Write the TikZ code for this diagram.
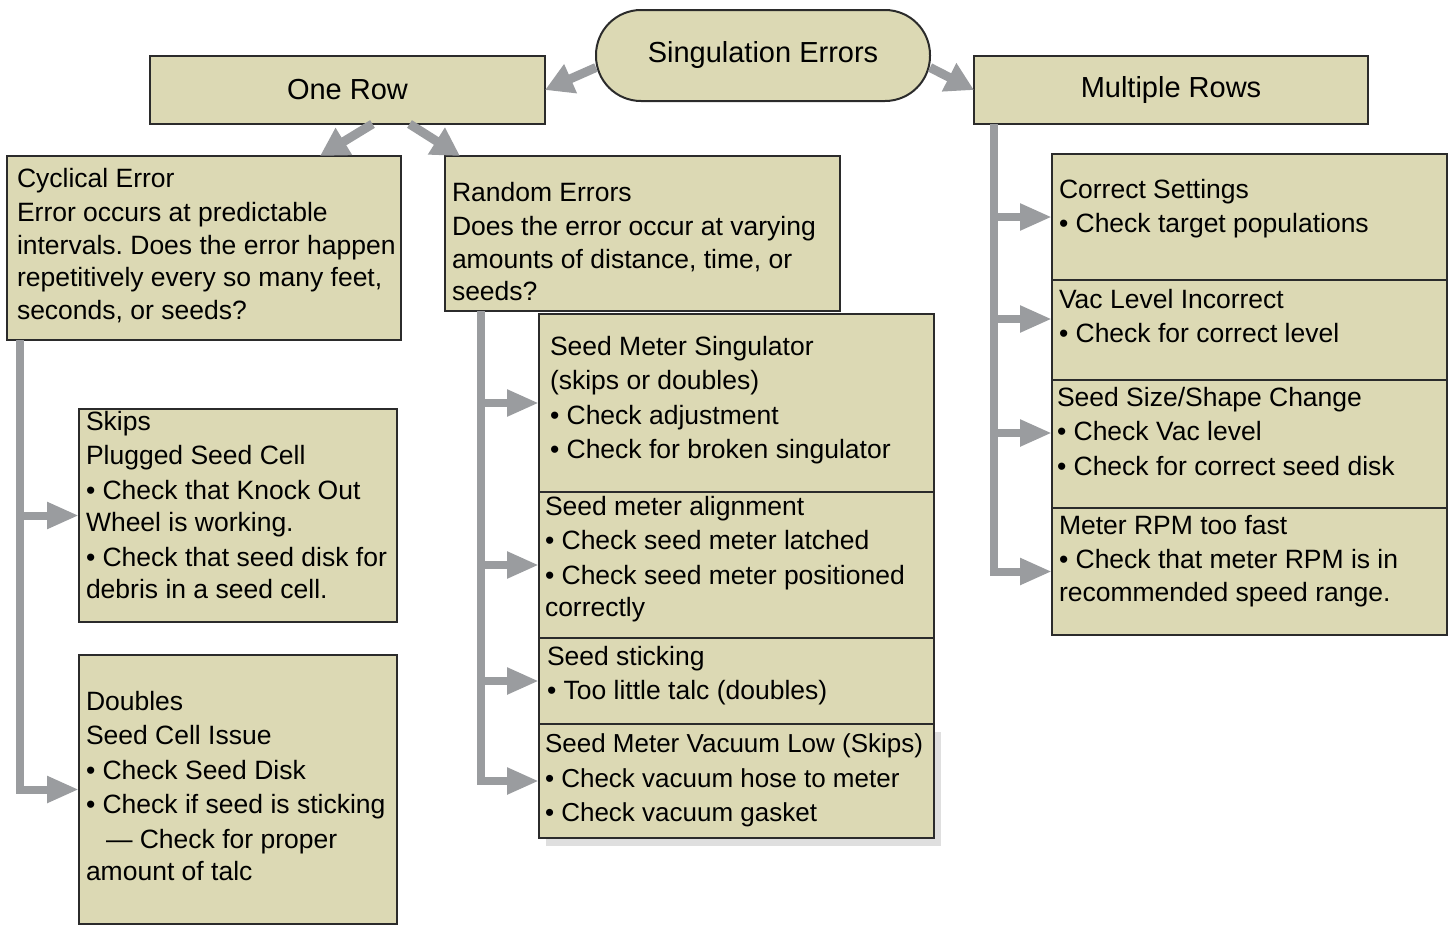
\documentclass[tikz,border=0pt]{standalone}
\usepackage{fontspec}
\setmainfont{Liberation Sans}
\usepackage{xcolor}
\usepackage{tikz}
\usetikzlibrary{positioning, arrows.meta, shadows}
\frenchspacing

\definecolor{boxfill}{HTML}{DCD9B4}
\definecolor{boxline}{HTML}{2B2B2B}
\definecolor{arrgrey}{HTML}{9A9C9F}

\begin{document}
\begin{tikzpicture}[
      x=1pt, y=-1pt,
      box/.style={draw=boxline, line width=2pt, fill=boxfill, anchor=north west, outer sep=0pt, inner sep=0pt},
      head/.style={box, font=\fontsize{29}{35}\selectfont},
      txt/.style={inner sep=0pt, outer sep=0pt, align=left, font=\fontsize{26.5}{32.5}\selectfont},
      arr/.style={draw=arrgrey, line width=8pt, -{Triangle[length=32pt, width=25pt]}},
      bigarr/.style={draw=arrgrey, line width=9pt, -{Triangle[length=28pt, width=30pt]}}
    ]
    \useasboundingbox (0,0) rectangle (1454,926);

    % Nodes
    \node[head, rounded corners=45pt, minimum width=334pt, minimum height=91pt, anchor=north west] (root) at (596,10) {Singulation Errors};
    \node[head, minimum width=395pt, minimum height=68pt] (onerow) at (150,56) {One Row};
    \node[head, minimum width=394pt, minimum height=68pt] (multi) at (974,56) {Multiple Rows};

    \node[box, minimum width=394pt, minimum height=184pt] (cyc) at (7,156) {};
    \node[box, minimum width=395pt, minimum height=155pt] (rand) at (445,156) {};
    \node[box, minimum width=318pt, minimum height=213pt] (skips) at (79,409) {};
    \node[box, minimum width=318pt, minimum height=269pt] (dbl) at (79,655) {};

    \node[box, minimum width=395pt, minimum height=178pt] (sms) at (539,314) {};
    \node[box, minimum width=395pt, minimum height=146pt] (align) at (539,492) {};
    \node[box, minimum width=395pt, minimum height=86pt] (stick) at (539,638) {};
    \node[box, minimum width=395pt, minimum height=114pt,
          drop shadow={shadow xshift=7pt, shadow yshift=-8pt, opacity=.25}] (vacl) at (539,724) {};

    \node[box, minimum width=395pt, minimum height=126pt] (corr) at (1052,154) {};
    \node[box, minimum width=395pt, minimum height=100pt] (vlev) at (1052,280) {};
    \node[box, minimum width=395pt, minimum height=128pt] (size) at (1052,380) {};
    \node[box, minimum width=395pt, minimum height=127pt] (rpm) at (1052,508) {};

    % Texts
    \node[txt, below right=12pt and 10pt of cyc.north west] (cyctxt) {Cyclical Error\\[2pt]
      Error occurs at predictable\\
      intervals. Does the error happen\\
      repetitively every so many feet,\\
      seconds, or seeds?};
    \node[txt, below right=26pt and 7pt of rand.north west] (randtxt) {Random Errors\\[2pt]
      Does the error occur at varying\\
      amounts of distance, time, or\\
      seeds?};
    \node[txt, below right=2pt and 7pt of skips.north west] (skipstxt) {Skips\\[2pt]
      Plugged Seed Cell\\[2pt]
      • Check that Knock Out\\
      Wheel is working.\\[2pt]
      • Check that seed disk for\\
      debris in a seed cell.};
    \node[txt, below right=36pt and 7pt of dbl.north west] (dbltxt) {Doubles\\[2pt]
      Seed Cell Issue\\[2pt]
      • Check Seed Disk\\[2pt]
      • Check if seed is sticking\\[2pt]
      \hspace*{20pt}— Check for proper\\
      amount of talc};

    \node[txt, below right=22pt and 11pt of sms.north west] (smstxt) {Seed Meter Singulator\\[2pt]
      (skips or doubles)\\[2pt]
      • Check adjustment\\[2pt]
      • Check for broken singulator};
    \node[txt, below right=4pt and 6pt of align.north west] (aligntxt) {Seed meter alignment\\[2pt]
      • Check seed meter latched\\[2pt]
      • Check seed meter positioned\\
      correctly};
    \node[txt, below right=8pt and 8pt of stick.north west] (sticktxt) {Seed sticking\\[2pt]
      • Too little talc (doubles)};
    \node[txt, font=\fontsize{26}{32.5}\selectfont, below right=10pt and 6pt of vacl.north west] (vacltxt) {Seed Meter Vacuum Low (Skips)\\[2pt]
      • Check vacuum hose to meter\\[2pt]
      • Check vacuum gasket};

    \node[txt, below right=25pt and 7pt of corr.north west] (corrtxt) {Correct Settings\\[2pt]
      • Check target populations};
    \node[txt, below right=9pt and 7pt of vlev.north west] (vlevtxt) {Vac Level Incorrect\\[2pt]
      • Check for correct level};
    \node[txt, below right=7pt and 5pt of size.north west] (sizetxt) {Seed Size/Shape Change\\[2pt]
      • Check Vac level\\[2pt]
      • Check for correct seed disk};
    \node[txt, below right=7pt and 7pt of rpm.north west] (rpmtxt) {Meter RPM too fast\\[2pt]
      • Check that meter RPM is in\\
      recommended speed range.};

    % Edges
    \draw[bigarr] ([yshift=-12pt]root.west) -- (onerow.east);
    \draw[bigarr] ([yshift=-12pt]root.east) -- (multi.west);
    \draw[bigarr] ([xshift=25pt]onerow.south) -- ([xshift=-81pt]cyc.north east);
    \draw[bigarr] ([xshift=62pt]onerow.south) -- ([xshift=15pt]rand.north west);

    \draw[arr] ([xshift=13pt]cyc.south west) |- (skips.west);
    \draw[arr] ([xshift=13pt]cyc.south west) |- (dbl.west);

    \draw[arr] ([xshift=36pt]rand.south west) |- (sms.west);
    \draw[arr] ([xshift=36pt]rand.south west) |- (align.west);
    \draw[arr] ([xshift=36pt]rand.south west) |- (stick.west);
    \draw[arr] ([xshift=36pt]rand.south west) |- (vacl.west);

    \draw[arr] ([xshift=20pt]multi.south west) |- (corr.west);
    \draw[arr] ([xshift=20pt]multi.south west) |- ([yshift=11pt]vlev.west);
    \draw[arr] ([xshift=20pt]multi.south west) |- ([yshift=11pt]size.west);
    \draw[arr] ([xshift=20pt]multi.south west) |- (rpm.west);
  \end{tikzpicture}
\end{document}
